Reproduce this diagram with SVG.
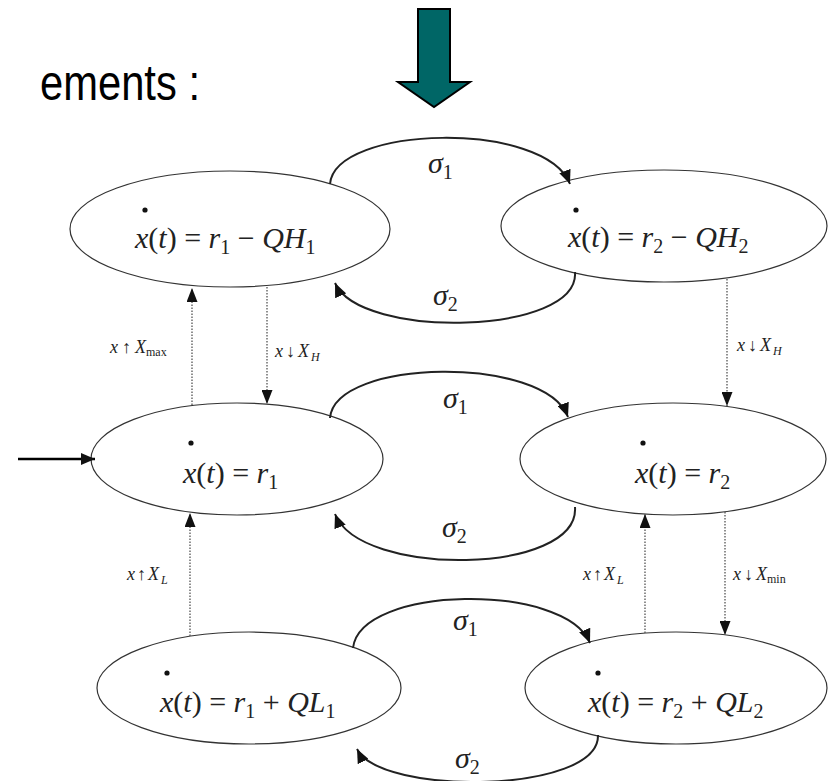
<svg xmlns="http://www.w3.org/2000/svg" width="828" height="781" viewBox="0 0 828 781">
<style>
.title{font-family:"Liberation Sans",Arial,sans-serif;font-size:50px;fill:#000}
.node ellipse{fill:#fff;stroke:#333;stroke-width:1.2}
.m{font-family:"Liberation Serif","Times New Roman",serif;font-size:30px;fill:#222}
.i{font-style:italic}
.sub{font-size:20px}
.lbl{font-family:"Liberation Serif","Times New Roman",serif;font-size:18px;fill:#222}
.lsub{font-size:12px}
.arc{fill:none;stroke:#222;stroke-width:2}
.dot{fill:none;stroke:#555;stroke-width:1.3;stroke-dasharray:1.5 1.5}
.d{fill:#111}
</style>
<defs>
<marker id="ah" viewBox="0 0 14 12" refX="14" refY="6" markerWidth="14" markerHeight="12" markerUnits="userSpaceOnUse" orient="auto"><path d="M0,0 L14,6 L0,12 z" fill="#111"/></marker>
<marker id="ahs" viewBox="0 0 14 11" refX="14" refY="5.5" markerWidth="14" markerHeight="11" markerUnits="userSpaceOnUse" orient="auto"><path d="M0,0 L14,5.5 L0,11 z" fill="#111"/></marker>
</defs>

<text class="title" x="40" y="100" textLength="160" lengthAdjust="spacingAndGlyphs">ements :</text>
<polygon points="418,9 450,9 450,82 470,82 434,107 398,82 418,82" fill="#006666" stroke="#000" stroke-width="2"/>

<g id="n1" class="node">
<ellipse cx="230" cy="229" rx="160" ry="58"/>
<circle class="d" cx="145" cy="210" r="2.6"/>
<text class="m" x="135" y="248"><tspan class="i">x</tspan>(<tspan class="i">t</tspan>) = <tspan class="i">r</tspan><tspan class="sub" dy="6">1</tspan><tspan dy="-6"> − </tspan><tspan class="i">QH</tspan><tspan class="sub" dy="6">1</tspan></text>
</g>
<g id="n2" class="node">
<ellipse cx="664" cy="226" rx="163" ry="56"/>
<circle class="d" cx="576" cy="210" r="2.6"/>
<text class="m" x="568" y="247"><tspan class="i">x</tspan>(<tspan class="i">t</tspan>) = <tspan class="i">r</tspan><tspan class="sub" dy="6">2</tspan><tspan dy="-6"> − </tspan><tspan class="i">QH</tspan><tspan class="sub" dy="6">2</tspan></text>
</g>
<g id="n3" class="node">
<ellipse cx="237" cy="459" rx="146" ry="56"/>
<circle class="d" cx="191" cy="443" r="2.6"/>
<text class="m" x="183" y="483"><tspan class="i">x</tspan>(<tspan class="i">t</tspan>) = <tspan class="i">r</tspan><tspan class="sub" dy="6">1</tspan></text>
</g>
<g id="n4" class="node">
<ellipse cx="673" cy="459" rx="153" ry="56"/>
<circle class="d" cx="643" cy="443" r="2.6"/>
<text class="m" x="635" y="483"><tspan class="i">x</tspan>(<tspan class="i">t</tspan>) = <tspan class="i">r</tspan><tspan class="sub" dy="6">2</tspan></text>
</g>
<g id="n5" class="node">
<ellipse cx="249" cy="688" rx="152" ry="56"/>
<circle class="d" cx="167" cy="673" r="2.6"/>
<text class="m" x="160" y="712"><tspan class="i">x</tspan>(<tspan class="i">t</tspan>) = <tspan class="i">r</tspan><tspan class="sub" dy="6">1</tspan><tspan dy="-6"> + </tspan><tspan class="i">QL</tspan><tspan class="sub" dy="6">1</tspan></text>
</g>
<g id="n6" class="node">
<ellipse cx="676" cy="688" rx="151" ry="56"/>
<circle class="d" cx="598" cy="673" r="2.6"/>
<text class="m" x="588" y="712"><tspan class="i">x</tspan>(<tspan class="i">t</tspan>) = <tspan class="i">r</tspan><tspan class="sub" dy="6">2</tspan><tspan dy="-6"> + </tspan><tspan class="i">QL</tspan><tspan class="sub" dy="6">2</tspan></text>
</g>

<g id="connectors">
<line x1="18" y1="459" x2="95" y2="459" stroke="#000" stroke-width="2.5" marker-end="url(#ah)"/>
<path class="arc" d="M330 184 C335 125 545 120 570 184" marker-end="url(#ah)"/>
<path class="arc" d="M575 272 C580 335 360 340 335 283" marker-end="url(#ah)"/>
<path class="arc" d="M330 418 C335 358 545 355 568 417" marker-end="url(#ah)"/>
<path class="arc" d="M575 507 C580 575 360 578 335 514" marker-end="url(#ah)"/>
<path class="arc" d="M353 648 C360 585 565 582 590 643" marker-end="url(#ah)"/>
<path class="arc" d="M598 735 C600 794 380 796 357 749" marker-end="url(#ah)"/>
<path class="dot" d="M192 405 V288" marker-end="url(#ahs)"/>
<path class="dot" d="M267 287 V404" marker-end="url(#ahs)"/>
<path class="dot" d="M727 279 V406" marker-end="url(#ahs)"/>
<path class="dot" d="M190 636 V513" marker-end="url(#ahs)"/>
<path class="dot" d="M645 633 V514" marker-end="url(#ahs)"/>
<path class="dot" d="M725 512 V635" marker-end="url(#ahs)"/>
<text class="m" x="428" y="173"><tspan class="i">σ</tspan><tspan class="sub" dy="6">1</tspan></text>
<text class="m" x="433" y="305"><tspan class="i">σ</tspan><tspan class="sub" dy="6">2</tspan></text>
<text class="m" x="443" y="408"><tspan class="i">σ</tspan><tspan class="sub" dy="6">1</tspan></text>
<text class="m" x="442" y="537"><tspan class="i">σ</tspan><tspan class="sub" dy="6">2</tspan></text>
<text class="m" x="453" y="630"><tspan class="i">σ</tspan><tspan class="sub" dy="6">1</tspan></text>
<text class="m" x="455" y="768"><tspan class="i">σ</tspan><tspan class="sub" dy="6">2</tspan></text>
<text class="lbl" x="110" y="353"><tspan class="i">x</tspan><tspan dx="4">↑</tspan><tspan class="i" dx="4">X</tspan><tspan class="lsub" dy="3">max</tspan></text>
<text class="lbl" x="275" y="357"><tspan class="i">x</tspan><tspan dx="3">↓</tspan><tspan class="i" dx="3">X</tspan><tspan class="lsub i" dy="4" dx="2">H</tspan></text>
<text class="lbl" x="737" y="351"><tspan class="i">x</tspan><tspan dx="3">↓</tspan><tspan class="i" dx="3">X</tspan><tspan class="lsub i" dy="4" dx="2">H</tspan></text>
<text class="lbl" x="127" y="580"><tspan class="i">x</tspan><tspan dx="2">↑</tspan><tspan class="i" dx="2">X</tspan><tspan class="lsub i" dy="4" dx="2">L</tspan></text>
<text class="lbl" x="583" y="580"><tspan class="i">x</tspan><tspan dx="2">↑</tspan><tspan class="i" dx="2">X</tspan><tspan class="lsub i" dy="4" dx="2">L</tspan></text>
<text class="lbl" x="733" y="580"><tspan class="i">x</tspan><tspan dx="3">↓</tspan><tspan class="i" dx="3">X</tspan><tspan class="lsub" dy="3">min</tspan></text>
</g>
</svg>
